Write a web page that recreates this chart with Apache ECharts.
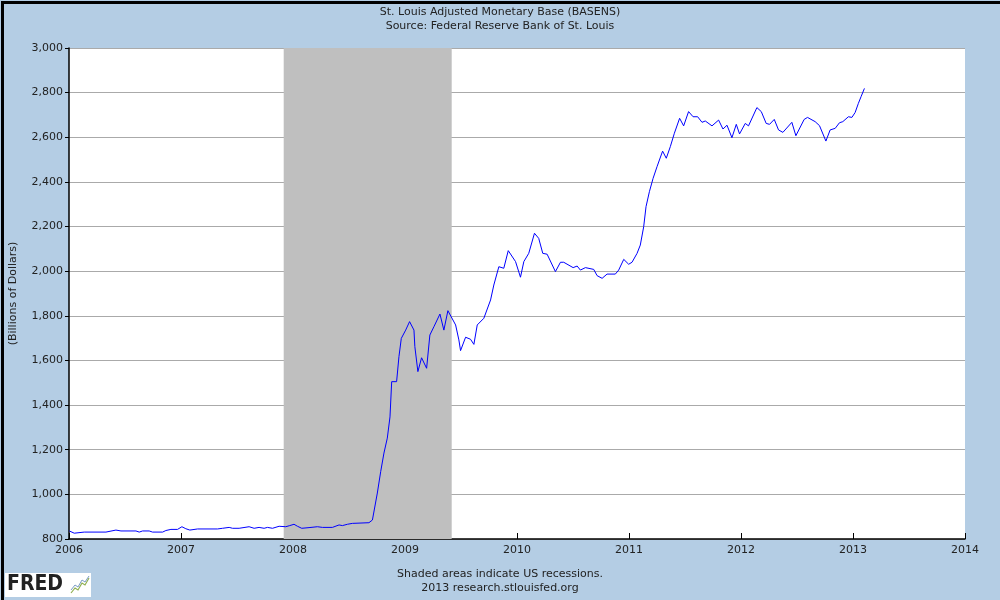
<!DOCTYPE html>
<html><head><meta charset="utf-8">
<script src="https://cdn.jsdelivr.net/npm/echarts@6/dist/echarts.min.js"></script>
<style>html,body{margin:0;padding:0;}#c{width:1000px;height:600px;}</style>
</head><body><div id="c"></div>
<script>
// Observation dates (decimal years) and values (billions of dollars)
var dates = [2006.003,2006.047,2006.136,2006.330,2006.419,2006.464,2006.598,2006.627,2006.657,2006.716,2006.746,2006.836,2006.865,2006.910,2006.969,
2007.008,2007.043,2007.079,2007.148,2007.326,2007.371,2007.430,2007.460,2007.519,2007.608,2007.653,2007.697,2007.742,2007.772,2007.817,2007.876,2007.935,2007.971,
2008.009,2008.040,2008.078,2008.143,2008.218,2008.263,2008.352,2008.411,2008.441,2008.486,2008.530,2008.678,2008.709,2008.753,2008.783,2008.812,2008.842,2008.866,2008.881,2008.925,2008.946,2008.967,
2009.006,2009.041,2009.080,2009.088,2009.115,2009.148,2009.193,2009.222,2009.258,2009.312,2009.347,2009.383,2009.452,2009.481,2009.496,2009.541,2009.585,2009.615,2009.645,2009.704,2009.764,2009.793,2009.838,2009.882,2009.922,2009.987,
2010.031,2010.061,2010.105,2010.156,2010.194,2010.230,2010.269,2010.343,2010.388,2010.417,2010.501,2010.537,2010.566,2010.611,2010.685,2010.715,2010.760,2010.804,2010.878,2010.908,2010.953,2010.997,
2011.027,2011.072,2011.101,2011.131,2011.152,2011.182,2011.215,2011.250,2011.300,2011.333,2011.369,2011.405,2011.452,2011.488,2011.532,2011.572,2011.613,2011.652,2011.681,2011.741,2011.800,2011.839,2011.875,2011.919,2011.958,2011.987,
2012.038,2012.067,2012.142,2012.181,2012.225,2012.255,2012.297,2012.335,2012.374,2012.454,2012.490,2012.564,2012.594,2012.662,2012.701,2012.758,2012.796,2012.841,2012.879,2012.909,2012.959,2012.990,
2013.019,2013.048,2013.072,2013.102];
var values = [836,826,831,831,840,836,836,831,836,836,831,831,838,843,843,
855,846,840,845,845,848,852,848,848,855,848,852,848,852,848,857,855,860,
866,857,848,851,855,852,852,863,860,866,870,873,885,1006,1102,1185,1252,1347,1505,1505,1617,1699,
1736,1774,1736,1662,1550,1612,1565,1714,1751,1808,1736,1823,1759,1692,1644,1704,1695,1672,1759,1789,1871,1938,2020,2013,2092,2043,
1973,2043,2080,2170,2147,2080,2076,1998,2040,2040,2016,2023,2005,2016,2008,1980,1968,1987,1987,2005,2053,2031,
2040,2080,2117,2199,2289,2356,2416,2468,2538,2506,2558,2618,2685,2651,2715,2692,2692,2667,2673,2651,2677,2637,2654,2598,2658,2615,
2662,2651,2733,2715,2662,2658,2680,2633,2622,2667,2607,2680,2689,2670,2652,2583,2633,2640,2665,2670,2692,2689,
2711,2752,2782,2819];
var recessionStart = 2007.917, recessionEnd = 2009.417;
var xMin = 2006, xMax = 2014, yMin = 800, yMax = 3000, yStep = 200;
var titleLines = ['St. Louis Adjusted Monetary Base (BASENS)', 'Source: Federal Reserve Bank of St. Louis'];
var yAxisTitle = '(Billions of Dollars)';
var footerLines = ['Shaded areas indicate US recessions.', '2013 research.stlouisfed.org'];

var seriesData = dates.map(function(d, i){ return [d, values[i]]; });
var font = 'DejaVu Sans';
var chart = echarts.init(document.getElementById('c'), null, {renderer:'canvas'});
chart.setOption({
  backgroundColor: '#b4cde4',
  animation: false,
  textStyle: {fontFamily: font},
  grid: {left: 68, right: 35, top: 48, bottom: 61, show: true, backgroundColor: '#ffffff', borderWidth: 0},
  title: [
    {text: titleLines[0] + '\n' + titleLines[1], left: 'center', top: 0, textStyle: {fontFamily: font, fontSize: 11, fontWeight: 'normal', color: '#222', lineHeight: 14}},
    {text: footerLines[0] + '\n' + footerLines[1], left: 'center', top: 562, textStyle: {fontFamily: font, fontSize: 11, fontWeight: 'normal', color: '#222', lineHeight: 14}}
  ],
  xAxis: {
    type: 'value', min: xMin, max: xMax, interval: 1,
    axisLine: {show: true, lineStyle: {color: '#000', width: 1.5}},
    axisTick: {show: true, inside: true, length: 6, lineStyle: {color: '#000'}},
    axisLabel: {color: '#222', fontSize: 11, margin: 6, formatter: function(v){ return String(v); }},
    splitLine: {show: false}
  },
  yAxis: {
    type: 'value', min: yMin, max: yMax, interval: yStep,
    name: yAxisTitle, nameLocation: 'middle', nameGap: 50, nameRotate: 90,
    nameTextStyle: {color: '#222', fontSize: 11, fontFamily: font},
    axisLine: {show: true, lineStyle: {color: '#000', width: 1.5}},
    axisTick: {show: true, inside: false, length: 4, lineStyle: {color: '#000'}},
    axisLabel: {color: '#222', fontSize: 11, margin: 6, formatter: function(v){ return v.toLocaleString('en-US'); }},
    splitLine: {show: true, lineStyle: {color: '#aaaaaa', width: 1}}
  },
  series: [{
    type: 'line', data: seriesData, showSymbol: false, symbol: 'none',
    lineStyle: {color: '#0000ff', width: 1},
    markArea: {silent: true, itemStyle: {color: '#bfbfbf', opacity: 1}, data: [[{xAxis: recessionStart}, {xAxis: recessionEnd}]]},
    z: 3
  }],
  graphic: [
    {type: 'rect', left: 0, top: 0, shape: {width: 1000, height: 600}, style: {fill: 'none', stroke: '#000', lineWidth: 3}, silent: true, z: 100},
    {type: 'rect', left: 5, top: 573, shape: {width: 86, height: 24}, style: {fill: '#ffffff'}, z: 10},
    {type: 'text', left: 7, top: 574, style: {text: 'FRED', font: 'bold 21px "DejaVu Sans Condensed", "DejaVu Sans"', fill: '#222'}, z: 11},
    {type: 'polyline', shape: {points: [[71,593],[75,588],[78,590],[82,583],[85,585],[89,578]]}, style: {stroke: '#8fb050', lineWidth: 1.2, fill: 'none'}, z: 11},
    {type: 'polyline', shape: {points: [[71,590],[75,585],[78,587],[82,580],[85,582],[89,576]]}, style: {stroke: '#7a9cc6', lineWidth: 1, fill: 'none'}, z: 11}
  ]
});
</script></body></html>
